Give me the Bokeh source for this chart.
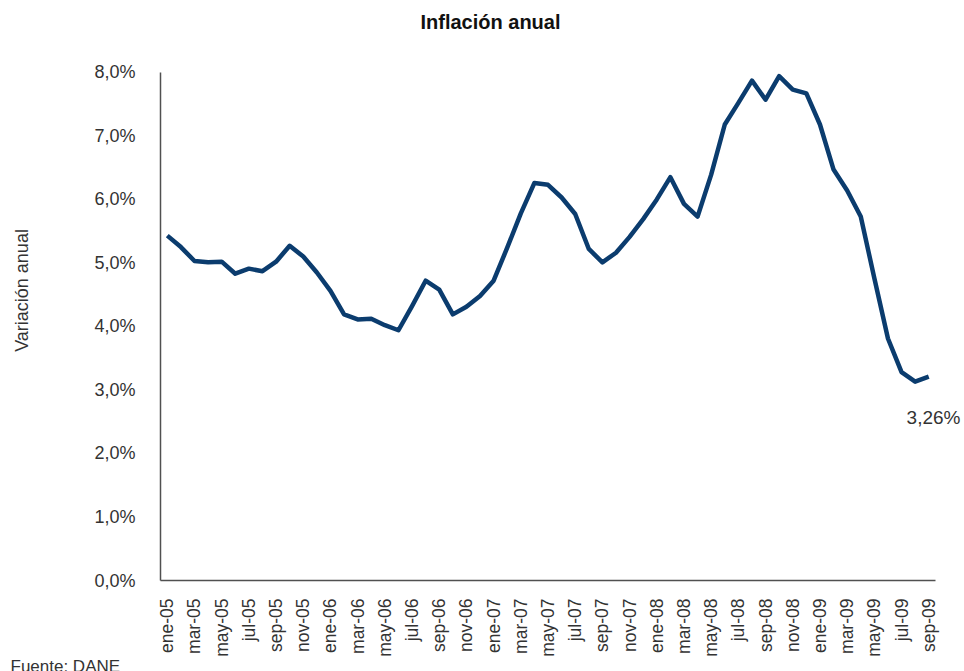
import math
from bokeh.plotting import figure
from bokeh.models import (Range1d, FixedTicker, CustomJSTickFormatter, Label,
                          ColumnDataSource, LinearAxis, Title)
from bokeh.embed import file_html
from bokeh.resources import INLINE

months = [f"{m}-{y:02d}" for y in range(5, 10)
          for m in ["ene", "feb", "mar", "abr", "may", "jun", "jul", "ago", "sep", "oct", "nov", "dic"]][:57]

inflacion = [
    5.43, 5.25, 5.03, 5.01, 5.02, 4.83, 4.91, 4.87, 5.02, 5.27, 5.10, 4.85,
    4.56, 4.19, 4.11, 4.12, 4.02, 3.94, 4.32, 4.72, 4.58, 4.19, 4.31, 4.48,
    4.72, 5.24, 5.78, 6.26, 6.23, 6.03, 5.77, 5.22, 5.01, 5.16, 5.41, 5.69,
    6.00, 6.35, 5.93, 5.73, 6.39, 7.18, 7.52, 7.87, 7.57, 7.94, 7.73, 7.67,
    7.18, 6.47, 6.14, 5.73, 4.76, 3.81, 3.28, 3.13, 3.21,
]

y_ticks = [0, 1, 2, 3, 4, 5, 6, 7, 8]
title_text = "Inflación anual"
y_label = "Variación anual"
last_label = "3,26%"
source_text = "Fuente: DANE"

FONT = "Liberation Sans"
TXT = "#333333"

idx = list(range(len(months)))
src = ColumnDataSource(dict(x=idx, y=inflacion, m=months))

p = figure(width=964, height=671, output_backend="svg", toolbar_location=None,
           x_range=Range1d(-0.5, 58.63), y_range=Range1d(0, 9.132),
           min_border_left=160, min_border_right=0, min_border_top=0, min_border_bottom=90)
p.outline_line_color = None
p.xgrid.visible = False
p.ygrid.visible = False
p.background_fill_color = "white"
p.border_fill_color = "white"

p.line("x", "y", source=src, line_color="#0b3c6e", line_width=4.5, line_join="round")

# Y axis
ya = p.yaxis[0]
ya.ticker = FixedTicker(ticks=y_ticks)
ya.bounds = (0, 8)
ya.formatter = CustomJSTickFormatter(code="return tick.toFixed(1).replace('.', ',') + '%';")
ya.major_tick_line_color = None
ya.major_tick_out = 0
ya.major_tick_in = 0
ya.minor_tick_line_color = None
ya.axis_line_color = "#505050"
ya.axis_line_width = 1.5
ya.major_label_text_font = FONT
ya.major_label_text_font_size = "18px"
ya.major_label_text_color = TXT
ya.major_label_standoff = 25

# Y axis title (separate, label-only axis)
ya2 = LinearAxis(ticker=FixedTicker(ticks=[]), bounds=(1.46, 8), axis_label=y_label,
                 axis_line_color=None, major_tick_line_color=None, minor_tick_line_color=None,
                 major_tick_out=0, major_tick_in=0, minor_tick_out=0,
                 axis_label_text_font=FONT, axis_label_text_font_size="18px",
                 axis_label_text_font_style="normal", axis_label_text_color=TXT,
                 axis_label_standoff=60)
p.add_layout(ya2, "left")

# X axis
xa = p.xaxis[0]
xa.ticker = FixedTicker(ticks=idx[::2])
xa.bounds = (-0.5, len(months) - 0.5)
xa.major_label_overrides = {i: months[i] for i in idx[::2]}
xa.major_tick_line_color = None
xa.major_tick_out = 0
xa.major_tick_in = 0
xa.minor_tick_line_color = None
xa.axis_line_color = "#505050"
xa.axis_line_width = 1.5
xa.major_label_orientation = math.pi / 2
xa.major_label_text_font = FONT
xa.major_label_text_font_size = "17.5px"
xa.major_label_text_color = TXT
xa.major_label_standoff = 18

# Title (inside extended frame)
p.add_layout(Label(x=23.77, y=8.786, text=title_text,
                   text_font=FONT, text_font_size="20px", text_font_style="bold",
                   text_align="center", text_baseline="middle", text_color="#111111"))
# Last value annotation
p.add_layout(Label(x=54.37, y=2.56, text=last_label,
                   text_font=FONT, text_font_size="19px",
                   text_align="left", text_baseline="middle", text_color=TXT))
# Source
p.add_layout(Title(text=source_text, align="left", offset=-150, standoff=-9,
                   text_font=FONT, text_font_size="17px", text_font_style="normal",
                   text_color=TXT), "below")

open("out.html", "w").write(file_html(p, INLINE))
